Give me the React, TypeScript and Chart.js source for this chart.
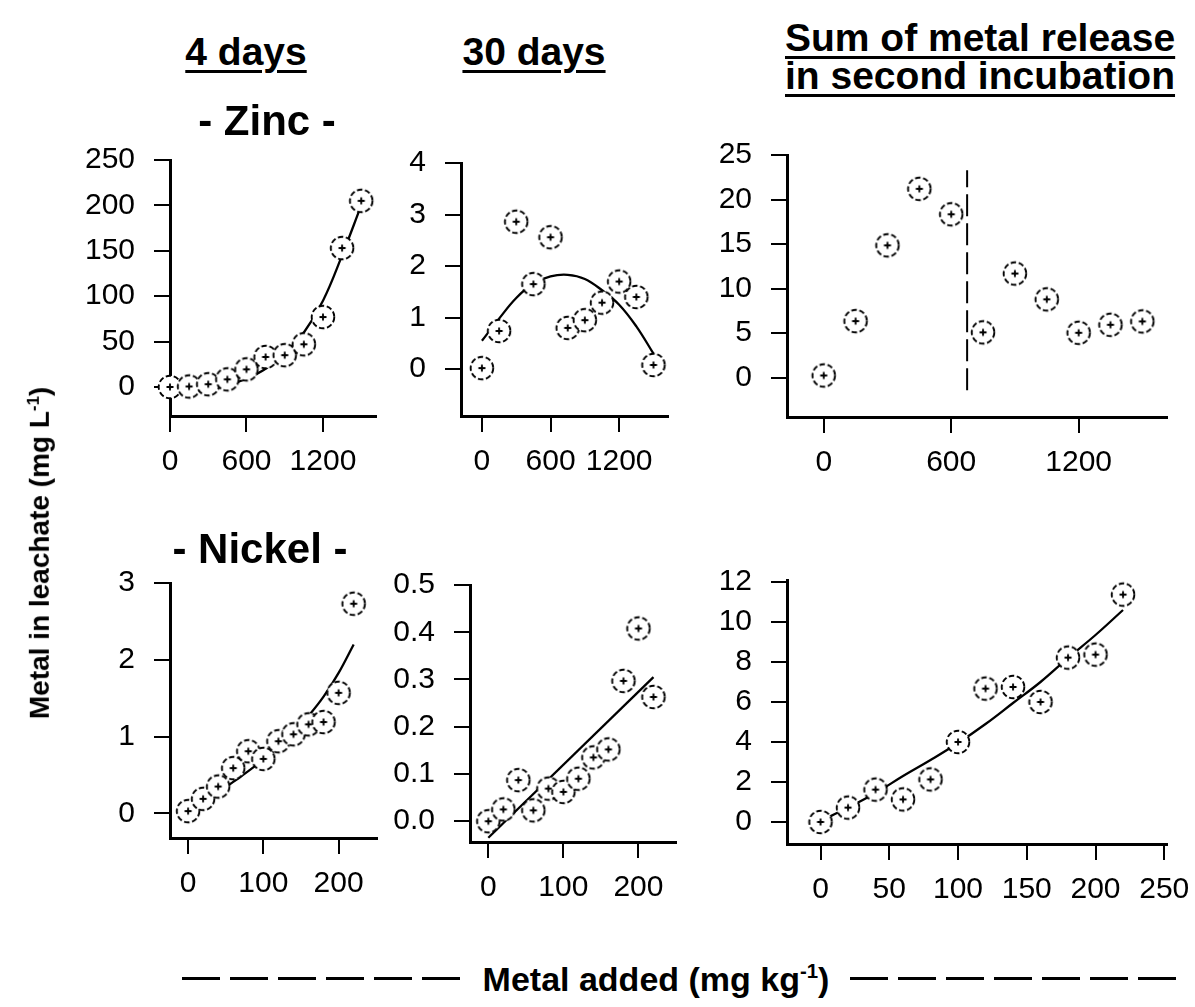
import React, { useEffect, useRef } from "react";
import { Chart, registerables } from "chart.js";

Chart.register(...registerables);

// ---------- data ----------
const zincDoses = [0, 150, 300, 450, 600, 750, 900, 1050, 1200, 1350, 1500];
const zinc4Days = [0, 0.5, 3, 8.4, 19.4, 33, 35, 47, 77, 153, 205];
const zinc4DaysFitX = [300, 450, 600, 750, 900, 1050, 1200, 1350, 1500];
const zinc4DaysFitY = [-3, 2, 9, 20, 37, 60, 95, 145, 200];

const zinc30Days = [0.02, 0.74, 2.86, 1.65, 2.56, 0.8, 0.95, 1.29, 1.7, 1.4, 0.08];
const zinc30DaysFitX = [0, 150, 300, 450, 600, 750, 900, 1050, 1200, 1350, 1500];
const zinc30DaysFitY = [0.55, 0.98, 1.38, 1.66, 1.8, 1.83, 1.75, 1.53, 1.25, 0.83, 0.3];

const zincSecond = [0.26, 6.36, 14.86, 21.2, 18.35, 5.1, 11.7, 8.8, 5.05, 5.95, 6.33];
const zincBreakX = [675, 675];
const zincBreakY = [-1.4, 23.3];

const nickelDoses = [0, 20, 40, 60, 80, 100, 120, 140, 160, 180, 200, 220];
const nickel4Days = [0.03, 0.19, 0.35, 0.59, 0.81, 0.71, 0.94, 1.03, 1.16, 1.19, 1.57, 2.73];
const nickel4DaysFitY = [0.03, 0.14, 0.27, 0.41, 0.55, 0.7, 0.86, 1.05, 1.27, 1.52, 1.83, 2.2];

const nickel30Days = [0.0, 0.025, 0.087, 0.023, 0.069, 0.062, 0.09, 0.135, 0.152, 0.297, 0.408, 0.263];
const nickel30DaysFitX = [0, 220];
const nickel30DaysFitY = [-0.035, 0.305];

const nickelSecond = [0, 0.72, 1.62, 1.13, 2.13, 4.0, 6.67, 6.75, 6.0, 8.22, 8.37, 11.37];
const nickelSecondFitY = [0.05, 0.72, 1.45, 2.3, 3.1, 3.95, 4.9, 5.95, 7.0, 8.2, 9.35, 10.6];

// tick labels
const zincXTicks = [0, 600, 1200];
const zinc4DaysYTicks = [0, 50, 100, 150, 200, 250];
const zinc30DaysYTicks = [0, 1, 2, 3, 4];
const zincSecondYTicks = [0, 5, 10, 15, 20, 25];
const nickelXTicks = [0, 100, 200];
const nickelSecondXTicks = [0, 50, 100, 150, 200, 250];
const nickel4DaysYTicks = [0, 1, 2, 3];
const nickel30DaysYTicks = [0, 0.1, 0.2, 0.3, 0.4, 0.5];
const nickelSecondYTicks = [0, 2, 4, 6, 8, 10, 12];

// ---------- layout ----------
const Y_W = 130;
const X_H = 80;
const PAD_T = 20;
const PAD_R = 28;
const FONT = "'Liberation Sans', Arial, sans-serif";

type Series = { x: number[]; y: number[]; kind: "points" | "curve" | "straight" | "dashed" };
type PanelSpec = {
  axisX: number; top: number; bottom: number; right: number;
  xMin: number; xMax: number; yMin: number; yMax: number;
  xTicks: number[]; yTicks: number[]; yDecimals: number;
  series: Series[];
};

const panels: PanelSpec[] = [
  {
    axisX: 170, top: 160, bottom: 416, right: 376,
    xMin: 0, xMax: 1616, yMin: -32, yMax: 250,
    xTicks: zincXTicks, yTicks: zinc4DaysYTicks, yDecimals: 0,
    series: [
      { x: zincDoses, y: zinc4Days, kind: "points" },
      { x: zinc4DaysFitX, y: zinc4DaysFitY, kind: "curve" },
    ],
  },
  {
    axisX: 461, top: 163, bottom: 416, right: 668,
    xMin: -183, xMax: 1627, yMin: -0.91, yMax: 4,
    xTicks: zincXTicks, yTicks: zinc30DaysYTicks, yDecimals: 0,
    series: [
      { x: zincDoses, y: zinc30Days, kind: "points" },
      { x: zinc30DaysFitX, y: zinc30DaysFitY, kind: "curve" },
    ],
  },
  {
    axisX: 787, top: 155, bottom: 417, right: 1167,
    xMin: -173, xMax: 1616, yMin: -4.4, yMax: 25,
    xTicks: zincXTicks, yTicks: zincSecondYTicks, yDecimals: 0,
    series: [
      { x: zincDoses, y: zincSecond, kind: "points" },
      { x: zincBreakX, y: zincBreakY, kind: "dashed" },
    ],
  },
  {
    axisX: 170, top: 583, bottom: 838, right: 377,
    xMin: -24, xMax: 251, yMin: -0.32, yMax: 3,
    xTicks: nickelXTicks, yTicks: nickel4DaysYTicks, yDecimals: 0,
    series: [
      { x: nickelDoses, y: nickel4Days, kind: "points" },
      { x: nickelDoses, y: nickel4DaysFitY, kind: "curve" },
    ],
  },
  {
    axisX: 470, top: 585, bottom: 842, right: 676,
    xMin: -24.4, xMax: 250, yMin: -0.044, yMax: 0.5,
    xTicks: nickelXTicks, yTicks: nickel30DaysYTicks, yDecimals: 1,
    series: [
      { x: nickelDoses, y: nickel30Days, kind: "points" },
      { x: nickel30DaysFitX, y: nickel30DaysFitY, kind: "straight" },
    ],
  },
  {
    axisX: 787, top: 580, bottom: 844, right: 1167,
    xMin: -24.4, xMax: 252, yMin: -1.1, yMax: 12.1,
    xTicks: nickelSecondXTicks, yTicks: nickelSecondYTicks, yDecimals: 0,
    series: [
      { x: nickelDoses, y: nickelSecond, kind: "points" },
      { x: nickelDoses, y: nickelSecondFitY, kind: "curve" },
    ],
  },
];

function makeMarker(): HTMLCanvasElement {
  const c = document.createElement("canvas");
  c.width = 28;
  c.height = 28;
  const ctx = c.getContext("2d")!;
  const r = 11.3;
  ctx.fillStyle = "#fff";
  ctx.beginPath();
  ctx.arc(14, 14, r, 0, Math.PI * 2);
  ctx.fill();
  ctx.strokeStyle = "#000";
  ctx.lineWidth = 1.9;
  ctx.setLineDash([5.5, 2.6]);
  ctx.beginPath();
  ctx.arc(14, 14, r, 0, Math.PI * 2);
  ctx.stroke();
  ctx.setLineDash([]);
  ctx.lineWidth = 1.8;
  ctx.beginPath();
  ctx.moveTo(10.5, 14);
  ctx.lineTo(17.5, 14);
  ctx.moveTo(14, 10.5);
  ctx.lineTo(14, 17.5);
  ctx.stroke();
  ctx.fillStyle = "#000";
  ctx.fillRect(12.8, 12.8, 2.4, 2.4);
  return c;
}

function Panel({ spec }: { spec: PanelSpec }) {
  const ref = useRef<HTMLCanvasElement>(null);
  const width = Y_W + (spec.right - spec.axisX) + PAD_R;
  const height = PAD_T + (spec.bottom - spec.top) + X_H;
  const left = spec.axisX - Y_W;
  const top = spec.top - PAD_T;

  useEffect(() => {
    const marker = makeMarker();
    const datasets: any[] = [];
    // points first so they are drawn on top
    spec.series
      .filter((s) => s.kind === "points")
      .forEach((s) => {
        datasets.push({
          data: s.x.map((x, i) => ({ x, y: s.y[i] })),
          pointStyle: marker,
          pointRadius: 12,
          showLine: false,
          clip: false,
        });
      });
    spec.series
      .filter((s) => s.kind !== "points")
      .forEach((s) => {
        datasets.push({
          data: s.x.map((x, i) => ({ x, y: s.y[i] })),
          showLine: true,
          pointRadius: 0,
          borderColor: "#000",
          borderWidth: s.kind === "dashed" ? 2 : 2.3,
          borderDash: s.kind === "dashed" ? [22, 7] : [],
          tension: s.kind === "curve" ? 0.4 : 0,
          fill: false,
          clip: false,
        });
      });

    const tickFont = { family: FONT, size: 30 };
    const gridOpts = {
      display: true,
      drawOnChartArea: false,
      drawTicks: true,
      tickLength: 16,
      lineWidth: 2,
      color: "#000",
    };
    const chart = new Chart(ref.current!, {
      type: "scatter",
      data: { datasets },
      options: {
        animation: false,
        responsive: false,
        devicePixelRatio: 1,
        events: [],
        layout: { padding: { top: PAD_T, right: PAD_R, left: 0, bottom: 0 } },
        plugins: { legend: { display: false }, tooltip: { enabled: false } },
        scales: {
          x: {
            type: "linear",
            min: spec.xMin,
            max: spec.xMax,
            afterBuildTicks: (s: any) => {
              s.ticks = spec.xTicks.map((v) => ({ value: v }));
            },
            afterFit: (s: any) => {
              s.height = X_H;
              s.paddingLeft = 0;
              s.paddingRight = 0;
              s.paddingTop = 0;
              s.paddingBottom = 0;
            },
            ticks: {
              autoSkip: false,
              maxRotation: 0,
              minRotation: 0,
              padding: 12,
              color: "#000",
              font: tickFont,
              callback: (v: any) => String(v),
            },
            grid: gridOpts,
            border: { display: true, color: "#000", width: 3 },
          },
          y: {
            type: "linear",
            min: spec.yMin,
            max: spec.yMax,
            afterBuildTicks: (s: any) => {
              s.ticks = spec.yTicks.map((v) => ({ value: v }));
            },
            afterFit: (s: any) => {
              s.width = Y_W;
              s.paddingLeft = 0;
              s.paddingRight = 0;
              s.paddingTop = 0;
              s.paddingBottom = 0;
            },
            ticks: {
              autoSkip: false,
              padding: 19,
              color: "#000",
              font: tickFont,
              callback: (v: any) => Number(v).toFixed(spec.yDecimals),
            },
            grid: gridOpts,
            border: { display: true, color: "#000", width: 3 },
          },
        },
      } as any,
    });
    return () => chart.destroy();
  }, []);

  return (
    <canvas
      ref={ref}
      width={width}
      height={height}
      style={{ position: "absolute", left, top, width, height, display: "block" }}
    />
  );
}

const titleStyle: React.CSSProperties = {
  position: "absolute",
  fontFamily: FONT,
  fontWeight: "bold",
  fontSize: 39,
  lineHeight: "40px",
  whiteSpace: "nowrap",
  color: "#000",
};
const underline: React.CSSProperties = {
  textDecoration: "underline",
  textDecorationThickness: "3px",
  textUnderlineOffset: "5px",
};

function Label({ x, y, children, style }: { x: number; y: number; children: any; style?: React.CSSProperties }) {
  return (
    <div style={{ ...titleStyle, left: x, top: y, transform: "translate(-50%, -50%)", ...style }}>{children}</div>
  );
}

const dashBg = "repeating-linear-gradient(to right, #000 0 38px, transparent 38px 48px)";

export default function App() {
  return (
    <div
      style={{
        position: "absolute",
        left: 0,
        top: 0,
        width: 1195,
        height: 1007,
        background: "#fff",
        overflow: "hidden",
      }}
    >
      {panels.map((p, i) => (
        <Panel key={i} spec={p} />
      ))}
      <Label x={246} y={52} style={underline}>4 days</Label>
      <Label x={534} y={52} style={underline}>30 days</Label>
      <div style={{ ...titleStyle, left: 785, top: 38, transform: "translateY(-50%)", ...underline }}>
        Sum of metal release
      </div>
      <div style={{ ...titleStyle, left: 785, top: 76, transform: "translateY(-50%)", ...underline }}>
        in second incubation
      </div>
      <Label x={267} y={121} style={{ fontSize: 42 }}>- Zinc -</Label>
      <Label x={260} y={549} style={{ fontSize: 42 }}>- Nickel -</Label>
      <div
        style={{
          position: "absolute",
          left: 40,
          top: 553,
          transform: "translate(-50%, -50%) rotate(-90deg)",
          fontFamily: FONT,
          fontWeight: "bold",
          fontSize: 28,
          whiteSpace: "nowrap",
        }}
      >
        Metal in leachate (mg L<sup style={{ fontSize: "0.6em" }}>-1</sup>)
      </div>
      <div style={{ position: "absolute", left: 182, top: 977, width: 282, height: 3, background: dashBg }} />
      <Label x={656} y={975} style={{ fontSize: 34 }}>
        Metal added (mg kg<sup style={{ fontSize: "0.6em" }}>-1</sup>)
      </Label>
      <div style={{ position: "absolute", left: 850, top: 977, width: 326, height: 3, background: dashBg }} />
    </div>
  );
}
